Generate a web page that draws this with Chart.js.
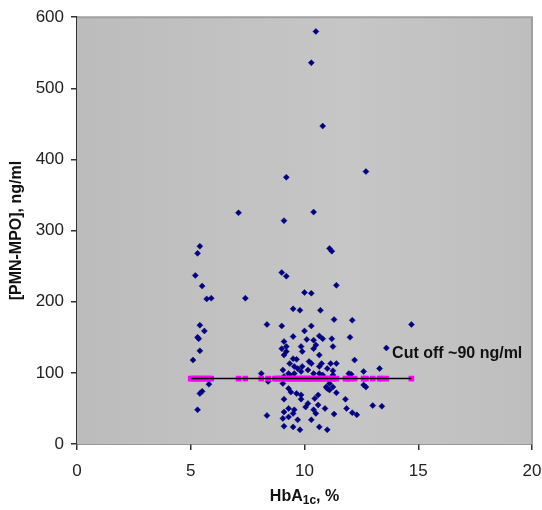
<!DOCTYPE html>
<html lang="en">
<head>
    <meta charset="UTF-8">
    <title>PMN-MPO vs HbA1c</title>
    <style>
        body { margin: 0; background: #ffffff; }
        #wrap { width: 542px; height: 510px; }
    </style>
    <script src="https://cdn.jsdelivr.net/npm/chart.js"></script>
</head>
<body>
    <div id="wrap"><canvas id="grafico"></canvas></div>

    <script>
        // HbA1c (%) and PMN-MPO (ng/ml) per patient
        const hbaValues = [
            5.1, 5.2, 5.3, 5.4, 5.5, 5.7, 5.9, 5.4, 5.6, 5.3, 5.35, 5.4, 5.8, 5.5, 5.4, 5.3,
            7.1, 7.4,
            8.1, 8.35, 8.35, 8.4,
            10.5, 10.3, 10.8, 12.7, 9.2, 10.4, 9.1, 11.1, 11.2,
            9.0, 9.2, 10.0, 10.3, 11.4, 9.5, 9.8, 10.7, 11.3, 12.1, 9.0, 10.3, 14.7,
            10.0, 9.5, 10.65, 10.8, 11.2, 12.0, 9.1, 10.1, 10.4, 10.5, 9.0, 9.2, 9.2, 9.85, 9.9,
            10.4, 11.25, 13.6, 9.1, 9.5, 9.65, 10.65, 12.2, 10.2, 10.3, 9.35, 10.75, 10.65, 11.15,
            11.4, 9.55, 9.7, 9.9, 9.85, 11.0, 11.25, 13.3, 12.6, 9.05, 10.15, 10.4, 9.3, 9.35,
            9.55, 10.65, 10.8, 11.25, 11.95, 12.05, 9.1,
            9.05, 11.1, 11.25, 9.3, 9.4, 11.0, 9.65, 9.85, 10.6, 10.45, 9.1, 9.85, 10.15, 10.05,
            10.6, 9.3, 9.1, 9.55, 9.5, 10.4, 10.5, 10.9, 9.05, 9.3, 10.3, 9.7, 10.65, 11.0, 9.1,
            9.5, 9.8,
            12.6, 12.7, 11.8, 11.85, 12.1, 12.3, 13.0, 13.4, 11.3, 10.95, 11.1, 11.4
        ];
        const mpoValues = [
            118, 237, 268, 278, 222, 204, 205, 167, 159, 150, 148, 131, 84, 74, 71, 48,
            325, 205,
            99, 168, 40, 88,
            580, 536, 447, 383, 375, 326, 314, 275, 271,
            241, 236, 213, 212, 223, 190, 188, 188, 175, 174, 166, 166, 168,
            159, 151, 152, 148, 148, 150, 144, 147, 146, 139, 134, 137, 130, 137, 130,
            134, 137, 135, 125, 120, 119, 125, 118, 116, 113, 113, 113, 109, 113,
            113, 109, 106, 109, 102, 106, 103, 106, 102, 104, 104, 99, 99, 97,
            99, 99, 97, 97, 99, 98, 95,
            85, 85, 80, 78, 73, 78, 71, 69, 69, 64, 63, 63, 57, 52,
            55, 50, 45, 48, 43, 48, 43, 50, 36, 38, 34, 34, 24, 20, 25,
            24, 20,
            83, 80, 63, 50, 44, 41, 54, 53, 42, 80, 76, 72
        ];

        // cut-off level and the HbA1c positions of the magenta markers on it
        const cutoffLevel = 92;
        const cutoffX = [
            5.0, 5.1, 5.2, 5.3, 5.4, 5.5, 5.6, 5.7, 5.8, 5.9,
            7.1, 7.4, 8.1, 8.4,
            8.7, 8.8, 8.9, 9.0, 9.1, 9.2, 9.3, 9.4, 9.5, 9.6, 9.7, 9.8, 9.9,
            10.0, 10.1, 10.2, 10.3, 10.4, 10.5, 10.6, 10.7, 10.8, 10.9,
            11.0, 11.1, 11.2, 11.3, 11.4,
            11.8, 11.9, 12.0, 12.2, 12.6, 12.7, 13.0, 13.3, 13.4, 13.6, 14.7
        ];
        const cutoffLine = [5.0, 14.7];
        const cutoffLabel = 'Cut off ~90 ng/ml';

        const xTicks = [0, 5, 10, 15, 20];
        const yTicks = [0, 100, 200, 300, 400, 500, 600];

        const pontos = hbaValues.map((x, i) => ({ x: x, y: mpoValues[i] }));
        const pontosCorte = cutoffX.map(x => ({ x: x, y: cutoffLevel }));
        const linhaCorte = cutoffLine.map(x => ({ x: x, y: cutoffLevel }));

        const fonte = '"Liberation Sans", Arial, sans-serif';

        // fundo cinza, borda e textos extras
        const extras = {
            id: 'extras',
            beforeDatasetsDraw(chart) {
                const { ctx, chartArea: a } = chart;
                const g = ctx.createLinearGradient(a.left, 0, a.right, 0);
                g.addColorStop(0, '#bcbcbc');
                g.addColorStop(0.6, '#c6c6c6');
                g.addColorStop(1, '#bebebe');
                ctx.save();
                ctx.fillStyle = g;
                ctx.fillRect(a.left, a.top, a.right - a.left, a.bottom - a.top);
                ctx.strokeStyle = '#a0a0a0';
                ctx.lineWidth = 2;
                ctx.beginPath();
                ctx.moveTo(a.left, a.top);
                ctx.lineTo(a.right, a.top);
                ctx.lineTo(a.right, a.bottom);
                ctx.stroke();
                ctx.restore();
            },
            afterDraw(chart) {
                const { ctx, chartArea: a, scales } = chart;
                ctx.save();
                ctx.fillStyle = '#111';
                ctx.textBaseline = 'middle';

                // annotation
                ctx.font = 'bold 16px ' + fonte;
                ctx.textAlign = 'left';
                ctx.fillText(cutoffLabel, scales.x.getPixelForValue(13.85), scales.y.getPixelForValue(127));

                // x title with subscript
                const big = 'bold 16px ' + fonte;
                const small = 'bold 12px ' + fonte;
                const p1 = 'HbA', p2 = '1c', p3 = ', %';
                ctx.font = big;
                const w1 = ctx.measureText(p1).width, w3 = ctx.measureText(p3).width;
                ctx.font = small;
                const w2 = ctx.measureText(p2).width;
                let x = (a.left + a.right) / 2 - (w1 + w2 + w3) / 2;
                const y = 497;
                ctx.font = big;
                ctx.fillText(p1, x, y);
                x += w1;
                ctx.font = small;
                ctx.fillText(p2, x, y + 4);
                x += w2;
                ctx.font = big;
                ctx.fillText(p3, x, y);
                ctx.restore();
            }
        };

        const ctx = document.getElementById('grafico').getContext('2d');
        const grafico = new Chart(ctx, {
            type: 'scatter',
            data: {
                datasets: [
                    {
                        label: 'Cut off',
                        data: linhaCorte,
                        showLine: true,
                        borderColor: '#000000',
                        borderWidth: 1.5,
                        pointRadius: 0,
                        order: 1
                    },
                    {
                        label: 'Cut off markers',
                        data: pontosCorte,
                        pointStyle: 'rect',
                        pointRadius: 4,
                        backgroundColor: '#ff00ff',
                        borderColor: '#ff00ff',
                        borderWidth: 0,
                        order: 2
                    },
                    {
                        label: '[PMN-MPO]',
                        data: pontos,
                        pointStyle: 'rectRot',
                        pointRadius: 3,
                        backgroundColor: '#000080',
                        borderColor: '#000080',
                        borderWidth: 0.5,
                        order: 3
                    }
                ]
            },
            options: {
                responsive: true,
                maintainAspectRatio: false,
                animation: false,
                layout: { padding: { top: 17, right: 0, left: 0, bottom: 0 } },
                plugins: {
                    legend: { display: false },
                    tooltip: { enabled: false }
                },
                scales: {
                    x: {
                        type: 'linear',
                        min: 0,
                        max: 20,
                        afterBuildTicks: s => { s.ticks = xTicks.map(v => ({ value: v })); },
                        afterFit: s => { s.height = 66; s.paddingRight = 10; s.paddingLeft = 0; },
                        grid: { drawOnChartArea: false, drawTicks: true, tickLength: 6, color: '#333', lineWidth: 1.5 },
                        border: { color: '#333', width: 1.5 },
                        ticks: {
                            color: '#222',
                            padding: 11,
                            font: { size: 17, family: fonte }
                        }
                    },
                    y: {
                        type: 'linear',
                        min: 0,
                        max: 600,
                        afterBuildTicks: s => { s.ticks = yTicks.map(v => ({ value: v })); },
                        afterFit: s => { s.width = 77; },
                        grid: { drawOnChartArea: false, drawTicks: true, tickLength: 6, color: '#333', lineWidth: 1.5 },
                        border: { color: '#333', width: 1.5 },
                        title: {
                            display: true,
                            text: '[PMN-MPO], ng/ml',
                            color: '#111',
                            padding: { top: 7, bottom: 0 },
                            font: { size: 16, weight: 'bold', family: fonte }
                        },
                        ticks: {
                            color: '#222',
                            padding: 7,
                            font: { size: 17, family: fonte }
                        }
                    }
                }
            },
            plugins: [extras]
        });
    </script>
</body>
</html>
